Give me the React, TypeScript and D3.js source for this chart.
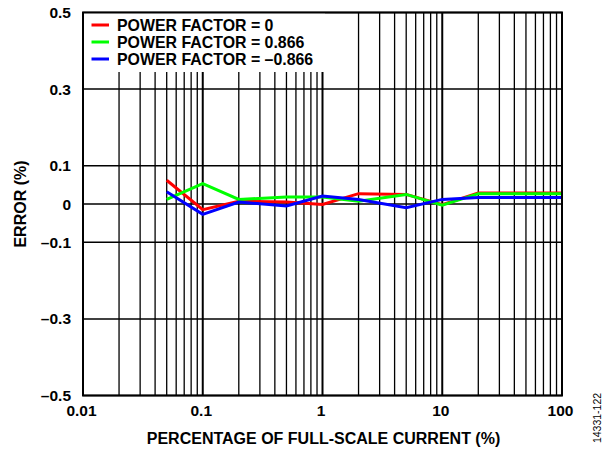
import React from "react";
import * as d3 from "d3";

const xValues = [0.05, 0.1, 0.2, 0.5, 1, 2, 5, 10, 20, 50, 100];
const pf0 = [0.062, -0.015, 0.007, 0.005, -0.001, 0.027, 0.025, -0.002, 0.029, 0.029, 0.029];
const pf866 = [0.012, 0.053, 0.012, 0.018, 0.018, 0.007, 0.025, -0.003, 0.027, 0.027, 0.027];
const pfNeg866 = [0.032, -0.027, 0.005, -0.005, 0.021, 0.012, -0.01, 0.012, 0.017, 0.017, 0.017];

const seriesNames = ["POWER FACTOR = 0", "POWER FACTOR = 0.866", "POWER FACTOR = \u20130.866"];
const seriesColors = ["#ff0000", "#00ff00", "#0000ff"];

const yTicks = [0.5, 0.3, 0.1, 0, -0.1, -0.3, -0.5];
const yTickLabels = ["0.5", "0.3", "0.1", "0", "\u20130.1", "\u20130.3", "\u20130.5"];
const xTicks = [0.01, 0.1, 1, 10, 100];
const xTickLabels = ["0.01", "0.1", "1", "10", "100"];

const W = 616;
const H = 452;
const L = 83;
const R = 562;
const T = 12.5;
const B = 395.5;
const FONT = "'Liberation Sans', Arial, Helvetica, sans-serif";

export default function App() {
  const x = d3.scaleLog().domain([0.01, 100]).range([L, R]);
  const y = d3.scaleLinear().domain([-0.5, 0.5]).range([B, T]);

  const minor: number[] = [];
  [0.01, 0.1, 1, 10].forEach((d) => {
    for (let m = 2; m <= 9; m++) minor.push(d * m);
  });
  const decades = [0.1, 1, 10];

  const line = d3
    .line<[number, number]>()
    .x((d) => x(d[0]))
    .y((d) => y(d[1]));

  const series = [pf0, pf866, pfNeg866];

  return (
    <svg
      width={W}
      height={H}
      style={{ position: "absolute", left: 0, top: 0, background: "#fff" }}
      fontFamily={FONT}
    >
      <rect x={0} y={0} width={W} height={H} fill="#fff" />
      {yTicks.map((t) => (
        <line key={"h" + t} x1={L} x2={R} y1={y(t)} y2={y(t)} stroke="#000" strokeWidth={1.5} />
      ))}
      {minor.map((v) => (
        <line key={"m" + v} x1={x(v)} x2={x(v)} y1={T} y2={B} stroke="#000" strokeWidth={1.3} />
      ))}
      {decades.map((v) => (
        <line key={"d" + v} x1={x(v)} x2={x(v)} y1={T} y2={B} stroke="#000" strokeWidth={2} />
      ))}
      <rect x={L} y={T} width={325 - L} height={72 - T} fill="#fff" />
      {series.map((s, i) => (
        <path
          key={"s" + i}
          d={line(xValues.map((v, j) => [v, s[j]] as [number, number])) || ""}
          fill="none"
          stroke={seriesColors[i]}
          strokeWidth={3}
          strokeLinejoin="miter"
        />
      ))}
      <rect x={L} y={T} width={R - L} height={B - T} fill="none" stroke="#000" strokeWidth={2} />
      {seriesNames.map((n, i) => (
        <g key={"l" + i}>
          <line x1={91.5} x2={109} y1={25 + i * 17} y2={25 + i * 17} stroke={seriesColors[i]} strokeWidth={3} />
          <text x={117} y={25 + i * 17} dy="0.36em" fontSize={15.9} fontWeight="bold">
            {n}
          </text>
        </g>
      ))}
      {yTicks.map((t, i) => (
        <text key={"yt" + t} x={71} y={y(t)} dy="0.36em" textAnchor="end" fontSize={15.5} fontWeight="bold">
          {yTickLabels[i]}
        </text>
      ))}
      {xTicks.map((t, i) => (
        <text key={"xt" + t} x={x(t) - 1.5} y={416} textAnchor="middle" fontSize={15.5} fontWeight="bold">
          {xTickLabels[i]}
        </text>
      ))}
      <text x={(L + R) / 2 + 1} y={444} textAnchor="middle" fontSize={16} fontWeight="bold">
        PERCENTAGE OF FULL-SCALE CURRENT (%)
      </text>
      <text
        transform={`translate(25.5, ${(T + B) / 2}) rotate(-90)`}
        textAnchor="middle"
        fontSize={16}
        fontWeight="bold"
      >
        ERROR (%)
      </text>
      <text transform={`translate(601, 418) rotate(-90)`} textAnchor="middle" fontSize={10.5}>
        14331-122
      </text>
    </svg>
  );
}
